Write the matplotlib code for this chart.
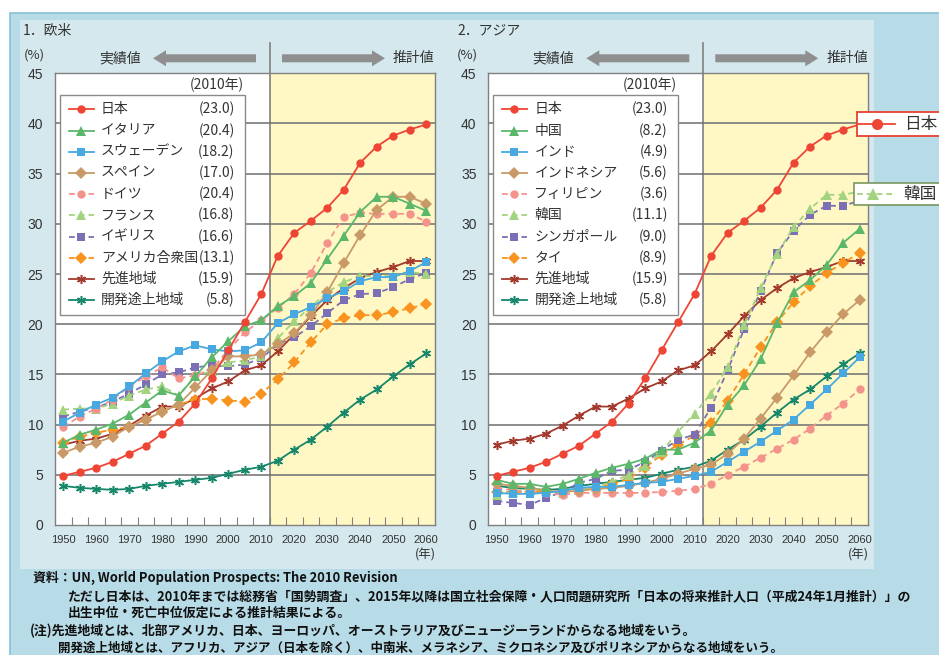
import numpy as np
import matplotlib.pyplot as plt
from matplotlib import patches, transforms
from matplotlib.lines import Line2D

plt.rcParams['font.family'] = ['Noto Sans CJK JP', 'DejaVu Sans']

W, H = 939, 655

years = [1950, 1955, 1960, 1965, 1970, 1975, 1980, 1985, 1990, 1995, 2000, 2005,
         2010, 2015, 2020, 2025, 2030, 2035, 2040, 2045, 2050, 2055, 2060]
label_years = [1950, 1960, 1970, 1980, 1990, 2000, 2010, 2020, 2030, 2040, 2050, 2060]

# 日本・先進地域・開発途上地域 (both panels)
japan = [4.9, 5.3, 5.7, 6.3, 7.1, 7.9, 9.1, 10.3, 12.1, 14.6, 17.4, 20.2, 23.0,
         26.8, 29.1, 30.3, 31.6, 33.4, 36.1, 37.7, 38.8, 39.4, 39.9]
developed = [8.0, 8.4, 8.6, 9.1, 9.9, 10.9, 11.8, 11.8, 12.6, 13.6, 14.3, 15.4, 15.9,
             17.3, 19.0, 20.8, 22.4, 23.6, 24.6, 25.2, 25.7, 26.3, 26.3]
developing = [3.9, 3.7, 3.6, 3.5, 3.6, 3.9, 4.1, 4.3, 4.5, 4.7, 5.1, 5.5, 5.8,
              6.4, 7.5, 8.5, 9.8, 11.2, 12.5, 13.5, 14.8, 16.0, 17.1]

# 1. 欧米
italy = [8.2, 9.0, 9.5, 10.1, 11.0, 12.2, 13.4, 12.9, 14.8, 16.7, 18.3, 19.8, 20.4,
         21.8, 22.8, 24.1, 26.5, 28.8, 31.2, 32.7, 32.7, 32.0, 31.3]
sweden = [10.3, 11.2, 12.0, 12.7, 13.8, 15.1, 16.3, 17.3, 17.9, 17.5, 17.3, 17.4, 18.2,
          20.1, 21.0, 21.7, 22.6, 23.3, 24.3, 24.7, 24.7, 25.3, 26.2]
spain = [7.2, 7.8, 8.2, 8.8, 9.8, 10.5, 11.3, 12.0, 13.7, 15.4, 16.8, 16.8, 17.0,
         18.0, 19.1, 20.9, 23.2, 26.1, 28.9, 31.4, 32.7, 32.7, 32.0]
germany = [9.8, 10.8, 11.6, 12.5, 13.8, 14.8, 15.7, 14.6, 14.9, 15.5, 17.4, 19.2, 20.4,
           21.6, 23.0, 25.1, 28.1, 30.7, 31.1, 31.0, 31.0, 31.0, 30.2]
france = [11.5, 11.6, 11.6, 12.1, 12.9, 13.5, 13.8, 12.9, 14.9, 15.3, 16.2, 16.4, 16.8,
          18.6, 20.3, 21.7, 23.2, 24.2, 24.8, 24.8, 24.8, 25.2, 25.0]
uk = [10.8, 11.3, 11.7, 12.3, 13.1, 14.0, 15.0, 15.2, 15.7, 15.9, 15.8, 16.0, 16.6,
      18.0, 18.7, 19.8, 21.1, 22.4, 23.0, 23.1, 23.7, 24.5, 25.1]
usa = [8.2, 8.8, 9.2, 9.5, 9.8, 10.5, 11.3, 12.0, 12.5, 12.6, 12.4, 12.3, 13.1,
       14.5, 16.2, 18.2, 20.0, 20.6, 20.9, 20.9, 21.2, 21.6, 22.0]

west_names = ['日本', 'イタリア', 'スウェーデン', 'スペイン', 'ドイツ', 'フランス',
              'イギリス', 'アメリカ合衆国', '先進地域', '開発途上地域']
west_vals = ['(23.0)', '(20.4)', '(18.2)', '(17.0)', '(20.4)', '(16.8)',
             '(16.6)', '(13.1)', '(15.9)', '(5.8)']

# 2. アジア
china = [4.5, 4.1, 4.1, 3.8, 4.1, 4.6, 5.2, 5.7, 6.1, 6.6, 7.5, 7.5, 8.2,
         9.4, 12.0, 13.9, 16.5, 20.1, 23.2, 24.4, 25.9, 28.1, 29.5]
india = [3.2, 3.1, 3.1, 3.2, 3.4, 3.7, 3.8, 3.8, 4.0, 4.2, 4.3, 4.6, 4.9,
         5.3, 6.3, 7.3, 8.3, 9.4, 10.5, 12.0, 13.5, 15.1, 16.7]
indonesia = [4.1, 3.9, 3.7, 3.4, 3.3, 3.4, 3.6, 3.7, 3.9, 4.2, 4.6, 5.1, 5.6,
             6.0, 7.1, 8.6, 10.6, 12.7, 14.9, 17.2, 19.2, 21.0, 22.4]
philippines = [3.6, 3.5, 3.2, 3.2, 3.0, 3.2, 3.2, 3.2, 3.2, 3.2, 3.3, 3.4, 3.6,
               4.1, 5.0, 5.8, 6.7, 7.6, 8.5, 9.6, 10.9, 12.1, 13.5]
korea = [3.0, 3.3, 3.7, 3.4, 3.2, 3.5, 3.8, 4.3, 5.0, 5.9, 7.3, 9.3, 11.1,
         13.1, 15.7, 19.9, 23.6, 27.0, 29.7, 31.5, 32.9, 32.9, 33.2]
singapore = [2.4, 2.2, 2.0, 2.7, 3.3, 4.2, 4.6, 5.4, 5.5, 6.3, 7.4, 8.5, 9.0,
             11.7, 15.4, 19.5, 23.3, 27.1, 29.3, 30.9, 31.8, 31.8, 32.3]
thailand = [3.3, 3.3, 3.3, 3.4, 3.3, 3.5, 3.6, 4.1, 4.6, 5.7, 7.0, 8.0, 8.9,
            10.2, 12.4, 15.0, 17.7, 20.2, 22.2, 23.8, 25.1, 26.1, 27.1]

asia_names = ['日本', '中国', 'インド', 'インドネシア', 'フィリピン', '韓国',
              'シンガポール', 'タイ', '先進地域', '開発途上地域']
asia_vals = ['(23.0)', '(8.2)', '(4.9)', '(5.6)', '(3.6)', '(11.1)',
             '(9.0)', '(8.9)', '(15.9)', '(5.8)']

west_series = [japan, italy, sweden, spain, germany, france, uk, usa, developed, developing]
asia_series = [japan, china, india, indonesia, philippines, korea, singapore, thailand,
               developed, developing]

AST = (6, 2, 0)
styles = [
    ('#ee4535', 'o', '-', 6.0),
    ('#5bb86b', '^', '-', 6.5),
    ('#47a9df', 's', '-', 6.0),
    ('#c99a68', 'D', '-', 5.8),
    ('#f4938b', 'o', '--', 6.0),
    ('#a4d37f', '^', '--', 6.5),
    ('#7b6fb6', 's', '--', 6.0),
    ('#f7931e', 'D', '--', 5.8),
    ('#a33a2d', AST, '-', 6.5),
    ('#16876a', AST, '-', 6.5),
]
DASH = (0, (3.2, 2.2))

fig = plt.figure(figsize=(W / 100, H / 100), dpi=100)
fig.patch.set_facecolor('white')
T = transforms.Affine2D().scale(1 / W, -1 / H).translate(0, 1) + fig.transFigure

# backgrounds
fig.add_artist(patches.Rectangle((10, 13), 940, 660, transform=T, facecolor='#b8dce7',
                                 edgecolor='#86c2d5', lw=1.2, zorder=-10))
fig.add_artist(patches.Rectangle((20, 20), 854, 549, transform=T, facecolor='#d4e8ee',
                                 edgecolor='none', zorder=-9))


def line_kw(i):
    color, marker, ls, ms = styles[i]
    kw = dict(color=color, marker=marker, ms=ms, lw=1.3, mew=0, mfc=color, mec=color)
    if ls == '--':
        kw['linestyle'] = DASH
    if marker == AST:
        kw['mew'] = 1.1
    return kw


def handle(x0, x1, xm, y, i, ms=None, zorder=6):
    kw = line_kw(i)
    if ms is not None:
        kw['ms'] = ms
    mk = dict(marker=kw.pop('marker'), ms=kw.pop('ms'), mfc=kw.pop('mfc'),
              mec=kw.pop('mec'), mew=kw.pop('mew'))
    fig.add_artist(Line2D([x0, x1], [y, y], transform=T, zorder=zorder, **kw))
    fig.add_artist(Line2D([xm], [y], transform=T, zorder=zorder + 0.5, linestyle='none',
                          color=kw['color'], **mk))


def draw_panel(left_px, series, names, vals, title, title_x):
    right_px = left_px + 379.5
    ax = fig.add_axes([left_px / W, 1 - 525 / H, (right_px - left_px) / W, (525 - 73.3) / H])
    ax.set_xlim(1947.5, 2062.5)
    ax.set_ylim(0, 45)
    ax.set_facecolor('white')
    ax.axvspan(2012.5, 2062.5, color='#fff8c4', zorder=0, lw=0)
    ax.axvline(2012.5, color='#808080', lw=1.2, zorder=1)
    # divider continues above the plot
    ax.plot([2012.5, 2012.5], [1.0, 1.0 + 30 / 451.7], color='#808080', lw=1.2,
            transform=ax.get_xaxis_transform(), clip_on=False)
    for y in range(5, 45, 5):
        ax.axhline(y, color='#6e6e6e', lw=1.1, zorder=1)
    for s in ax.spines.values():
        s.set_color('#808080')
        s.set_linewidth(1.0)

    for i in range(len(series) - 1, -1, -1):
        ax.plot(years, series[i], zorder=3 + (len(series) - i) * 0.01, **line_kw(i))

    ax.set_xticks(np.arange(1952.5, 2060, 5))
    ax.tick_params(axis='x', which='major', direction='in', length=6, color='#808080',
                   labelbottom=False)
    ax.set_xticks(label_years, minor=True)
    ax.set_xticklabels([str(y) for y in label_years], minor=True)
    ax.tick_params(axis='x', which='minor', length=0, pad=7.5, labelsize=8,
                   labelcolor='#333333')
    ax.set_yticks(range(0, 50, 5))
    ax.tick_params(axis='y', length=0, pad=8.5, labelsize=10, labelcolor='#333333')
    for lbl in ax.get_xticklabels(minor=True) + ax.get_yticklabels():
        lbl.set_family('Liberation Sans')

    # texts around
    fig.text(title_x, 31, title, transform=T, fontsize=10, va='center', color='#333333')
    fig.text(left_px - 20.5, 55, '(%)', transform=T, fontsize=9.5, va='center',
             ha='center', color='#333333')
    fig.text(left_px + 65, 58, '実績値', transform=T, fontsize=10, va='center',
             ha='center', color='#333333')
    fig.text(right_px, 58, '推計値', transform=T, fontsize=10, va='center',
             ha='right', color='#333333')
    fig.text(right_px - 9.5, 555, '(年)', transform=T, fontsize=9, va='center',
             ha='center', color='#333333')
    div = left_px + 214
    fig.add_artist(patches.FancyArrow(div - 13, 58.3, -103, 0, width=8, head_width=16,
                                      head_length=13, length_includes_head=True,
                                      transform=T, color='#8f8f8f', lw=0))
    fig.add_artist(patches.FancyArrow(div + 13, 58.3, 103, 0, width=8, head_width=16,
                                      head_length=13, length_includes_head=True,
                                      transform=T, color='#8f8f8f', lw=0))

    # legend
    bx = left_px + 4.5
    fig.text(bx + 184, 85, '(2010年)', transform=T, fontsize=10, va='center',
             ha='right', color='#333333', zorder=7)
    fig.add_artist(patches.Rectangle((bx, 95), 185.5, 220, transform=T, facecolor='white',
                                     edgecolor='#8a8a8a', lw=1.0, zorder=5))
    for i, (nm, v) in enumerate(zip(names, vals)):
        yy = 109.3 + i * 21.2
        handle(bx + 9, bx + 34, bx + 21.5, yy, i)
        fig.text(bx + 41.5, yy, nm, transform=T, fontsize=10, va='center',
                 color='#333333', zorder=7)
        fig.text(bx + 175, yy, v, transform=T, fontsize=10, va='center', ha='right',
                 color='#333333', zorder=7)
    return ax


draw_panel(55, west_series, west_names, west_vals, '1．欧米', 23)
draw_panel(488.3, asia_series, asia_names, asia_vals, '2．アジア', 457)

# call-out labels at right edge
fig.add_artist(patches.Rectangle((856.7, 112.3), 100, 23.4, transform=T, facecolor='white',
                                 edgecolor='#e8402f', lw=1.3, zorder=8))
handle(857, 895, 876.7, 124, 0, ms=8, zorder=9)
fig.text(904, 124, '日本', transform=T, fontsize=12, va='center', color='#333333', zorder=10)

fig.add_artist(patches.Rectangle((854.3, 182.7), 100, 22.3, transform=T, facecolor='white',
                                 edgecolor='#6f8f55', lw=1.1, zorder=8))
handle(857, 895, 873.3, 194, 5, ms=8, zorder=9)
fig.text(903, 194, '韓国', transform=T, fontsize=12, va='center', color='#333333', zorder=10)

# footnotes
notes = [
    (33, 578, '資料：UN, World Population Prospects: The 2010 Revision', 9.3),
    (68, 596, 'ただし日本は、2010年までは総務省「国勢調査」、2015年以降は国立社会保障・人口問題研究所「日本の将来推計人口（平成24年1月推計）」の', 9.3),
    (68, 613, '出生中位・死亡中位仮定による推計結果による。', 9.3),
    (30, 631, '(注)先進地域とは、北部アメリカ、日本、ヨーロッパ、オーストラリア及びニュージーランドからなる地域をいう。', 9.3),
    (58, 648, '開発途上地域とは、アフリカ、アジア（日本を除く）、中南米、メラネシア、ミクロネシア及びポリネシアからなる地域をいう。', 9.0),
]
for x, y, s, fs in notes:
    fig.text(x, y, s, transform=T, fontsize=fs, va='center', fontweight='bold',
             color='#111111')

fig.savefig('out.png', dpi=100)
